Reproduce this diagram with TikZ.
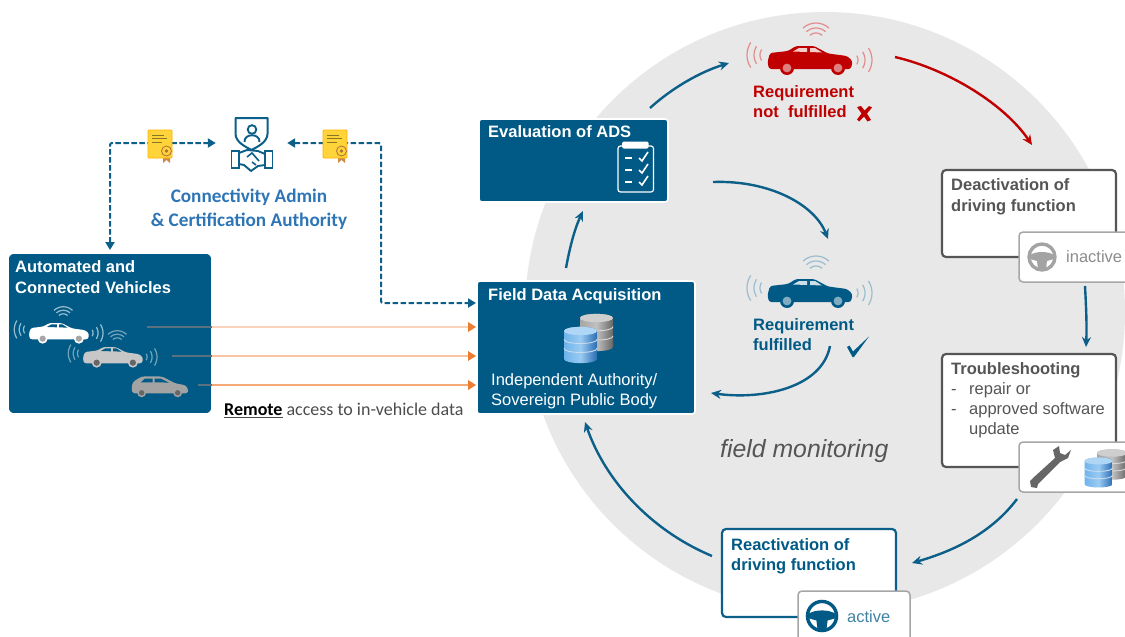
\documentclass[tikz,border=0pt]{standalone}
\usepackage{fontspec}
\setmainfont{Liberation Sans}
\newfontfamily\carl{Carlito}
\usetikzlibrary{arrows.meta,calc}
\definecolor{boxblue}{HTML}{005A85}
\definecolor{arrowblue}{HTML}{0B5F88}
\definecolor{circgray}{HTML}{E8E8E8}
\definecolor{redc}{HTML}{C00000}
\definecolor{txtgray}{HTML}{555555}
\definecolor{certy}{HTML}{FFD43B}
\definecolor{linkblue}{HTML}{2E75B6}
\definecolor{orangetip}{HTML}{ED7D31}
\definecolor{dbgl}{HTML}{A6A6A6}
\definecolor{dbgd}{HTML}{666666}
\definecolor{dbbl}{HTML}{6FB4EC}
\definecolor{dbbd}{HTML}{2A6DB5}
\definecolor{carlg}{HTML}{C7C7C7}
\definecolor{carmg}{HTML}{A3A3A3}
\definecolor{redwin}{HTML}{F3CCCC}
\definecolor{bluewin}{HTML}{CCDEE7}
\definecolor{inboxline}{HTML}{5A7280}
\definecolor{wrenchc}{HTML}{666666}
\newcommand{\dbcyl}[6]{% cx, top y, half width, height, light, dark
  \shade[left color=#5,right color=#6,middle color=#5!70!white]
    ({#1-#3},#2) -- ({#1-#3},{#2+#4}) .. controls ({#1-#3},{#2+#4+.33*#3}) and ({#1+#3},{#2+#4+.33*#3}) .. ({#1+#3},{#2+#4}) -- ({#1+#3},#2)
    .. controls ({#1+#3},{#2-.33*#3}) and ({#1-#3},{#2-.33*#3}) .. ({#1-#3},#2) -- cycle;
  \foreach \f in {.3,.62}{
    \draw[white!75!#6,line width=.9pt] ({#1-#3},{#2+\f*#4}) .. controls ({#1-#3},{#2+\f*#4+.33*#3}) and ({#1+#3},{#2+\f*#4+.33*#3}) .. ({#1+#3},{#2+\f*#4});
  }
  \fill[#5!55!white]
    ({#1-#3},#2) .. controls ({#1-#3},{#2+.33*#3}) and ({#1+#3},{#2+.33*#3}) .. ({#1+#3},#2)
    .. controls ({#1+#3},{#2-.33*#3}) and ({#1-#3},{#2-.33*#3}) .. ({#1-#3},#2) -- cycle;
}
\tikzset{
  x=1pt,y=-1pt,
  bluebox/.style={draw=white,line width=1.6pt,fill=boxblue,rounded corners=3pt,anchor=north west,inner sep=0pt,outer sep=0pt},
  outlinebox/.style={line width=2.2pt,fill=white,rounded corners=4pt,anchor=north west,inner sep=0pt,outer sep=0pt},
  tagbox/.style={draw=black!35,line width=1.5pt,fill=white,rounded corners=4pt,anchor=north west,inner sep=0pt,outer sep=0pt},
  lab/.style={anchor=base west,inner sep=0pt,font=\fontsize{16.5}{18}\selectfont},
  labb/.style={lab,font=\fontsize{16.5}{18}\selectfont\bfseries},
  carl lab/.style={anchor=base,inner sep=0pt,font=\fontsize{18}{20}\selectfont\carl},
  flow/.style={arrowblue,line width=2.4pt,-{Stealth[length=10pt,width=9pt]}},
  dashflow/.style={arrowblue,line width=2pt,dash pattern=on 5.5pt off 2.5pt,rounded corners=2pt,{Stealth[length=8pt,width=9pt,inset=0pt]}-{Stealth[length=8pt,width=9pt,inset=0pt]}},
  pics/car/.style n args={4}{code={
    \foreach \r/\a in {10/33,16/33,23/33}{
      \draw[#3,line width=1.2pt] plot[domain=-\a:\a,samples=9,smooth] ({-40-\r*cos(\x)},{-5+\r*sin(\x)});
    }
    \foreach \r/\a in {8/33,15/33,22/33}{
      \draw[#3,line width=1.2pt] plot[domain=-\a:\a,samples=9,smooth] ({40+\r*cos(\x)},{\r*sin(\x)});
    }
    \foreach \r/\a in {9/43,14/43,19/43}{
      \draw[#3,line width=1.2pt] plot[domain=-\a:\a,samples=9,smooth] ({6+\r*sin(\x)},{-18-\r*cos(\x)});
    }
    \fill[#1,rounded corners=2.5pt] (-42.5,2) -- (-40,-7) -- (-22,-9) -- (-14,-14) -- (4,-14) -- (18,-6.5) -- (37,-4) -- (42.5,1) -- (41,9) -- (-41,9) -- cycle;
    \fill[#2] (-17,-8.5) -- (-11,-12) -- (-3,-12) -- (-3,-8) -- cycle;
    \fill[#2] (0,-12) -- (5,-12) -- (12,-7.5) -- (0,-8) -- cycle;
    \foreach \wx in {-23,28}{
      \fill[#1] (\wx,8) circle[radius=7pt];
      \fill[#4] (\wx,8) circle[radius=4.4pt];
    }
  }},
  pics/hatch/.style n args={3}{code={
    \fill[#1,rounded corners=2.5pt] (-42,5) -- (-40,-6) -- (-27,-14) -- (3,-14) -- (22,-4) -- (38,-1) -- (42,6) -- (40,11) -- (-40,11) -- cycle;
    \fill[#2] (-28,-5.5) -- (-22,-11) -- (-11,-11) -- (-11,-5.5) -- cycle;
    \fill[#2] (-8,-11) -- (1,-11) -- (13,-5) -- (-8,-5.5) -- cycle;
    \foreach \wx in {-27,26}{
      \fill[#1] (\wx,10) circle[radius=6.5pt];
      \fill[#3] (\wx,10) circle[radius=4pt];
    }
  }},
  pics/cert/.style={code={
    \fill[orange!70!black!70] (3,10) -- (3,19) -- (6.5,16) -- (10,19) -- (10,10) -- cycle;
    \fill[certy,draw=orange!60!yellow,line width=.8pt,rounded corners=1pt] (-12,-14) rectangle (12,14);
    \foreach \ly/\lx in {-9/4,-5.5/7,-2/2}{\draw[black!45!certy,line width=.8pt] (-8,\ly) -- (\lx,\ly);}
    \fill[certy] (6.5,7) circle[radius=6pt];
    \draw[orange!60!black!80,line width=.8pt] (6.5,7) circle[radius=5pt];
    \fill[orange!60!black!80] (6.5,7) circle[radius=1.8pt];
  }},
  pics/wheel/.style={code={
    \draw[#1,line width=3.4pt] (0,0) circle[radius=13pt];
    \fill[#1] (-12,-2) .. controls (-6,-6) and (6,-6) .. (12,-2) -- (12,2) -- (5,4) -- (4,12) -- (-4,12) -- (-5,4) -- (-12,2) -- cycle;
  }},
}
\begin{document}
\begin{tikzpicture}
\useasboundingbox (0,0) rectangle (1125,637);
\clip (0,0) rectangle (1125,637);
\fill[white] (0,0) rectangle (1125,637);
\fill[circgray] (825,312) circle[radius=300pt];

% ---- boxes
\node[bluebox,minimum width=204pt,minimum height=161pt,rounded corners=6pt] (veh) at (8,253) {};
\node[bluebox,minimum width=189pt,minimum height=83pt] (evalb) at (479,119) {};
\node[bluebox,minimum width=218pt,minimum height=133pt] (fda) at (477,281) {};
\node[outlinebox,draw=txtgray,minimum width=174pt,minimum height=87pt] (deact) at (942,170) {};
\node[tagbox,minimum width=120pt,minimum height=50pt] (inact) at (1019,232) {};
\node[outlinebox,draw=txtgray,minimum width=174pt,minimum height=113pt] (trouble) at (942,354) {};
\node[tagbox,minimum width=120pt,minimum height=50pt] (toolb) at (1019,442) {};
\node[outlinebox,draw=arrowblue,minimum width=174pt,minimum height=88pt] (react) at (722,529) {};
\node[tagbox,minimum width=112pt,minimum height=60pt] (activeb) at (798,591) {};

% ---- anchors of the connectors
\node[minimum width=71pt,minimum height=54pt,inner sep=0pt] (caicon) at (251.5,143) {};
\coordinate (rcorner) at (381,143);
\coordinate (fport) at (476,303);
\coordinate (o1) at (147,327);
\coordinate (o2) at (172,356);
\coordinate (o3) at (198,385);
\coordinate (f1) at (566,268);
\coordinate (e1) at (583,211);
\coordinate (e2) at (650,108);
\coordinate (rc) at (729,63);
\coordinate (e3) at (713,182);
\coordinate (bc) at (828,239);
\coordinate (bc2) at (830,346);
\coordinate (f2) at (711,393);
\coordinate (rc2) at (895,57);
\coordinate (d1) at (1032,145);
\coordinate (i1) at (1085,286);
\coordinate (t1) at (1086,347);
\coordinate (t2) at (1017,499);
\coordinate (r1) at (912,563);
\coordinate (r2) at (712,556);
\coordinate (f3) at (585,422);

% ---- connectors
\draw[dashflow] ($(veh.north)+(0,-3)$) |- (caicon.west);
\draw[dashflow] (caicon.east) -- (rcorner) |- (fport);
\foreach \o/\c in {o1/F9D3BC,o2/F8C4A4,o3/F5A878}{
  \definecolor{oc}{HTML}{\c}
  \draw[oc,line width=1.6pt] (veh.east |- \o) -- ($(fda.west |- \o)+(-6,0)$);
  \draw[inboxline,line width=1.2pt] (\o) -- (veh.east |- \o);
  \fill[orangetip] ($(fda.west |- \o)+(-9,-5)$) -- ($(fda.west |- \o)+(-1,0)$) -- ($(fda.west |- \o)+(-9,5)$) -- cycle;
}
\draw[flow] (f1) .. controls (570,246) and (575,228) .. (e1);
\draw[flow] (e2) .. controls (672,88) and (700,72) .. (rc);
\draw[flow] (e3) .. controls (770,180) and (815,205) .. (bc);
\draw[flow] (bc2) .. controls (822,388) and (762,400) .. (f2);
\draw[flow,redc] (rc2) .. controls (950,70) and (1005,105) .. (d1);
\draw[flow] (i1) .. controls (1086,305) and (1087,325) .. (t1);
\draw[flow] (t2) .. controls (990,535) and (950,552) .. (r1);
\draw[flow] (r2) .. controls (650,530) and (605,480) .. (f3);

% ---- cars
\pic (carw) [scale=.71] at (59,333) {car={white}{boxblue}{white!60!boxblue}{dbgl}};
\pic (carg) [scale=.71] at (113,357) {car={carlg}{boxblue}{white!45!boxblue}{dbgd}};
\pic (carh) [scale=.68] at (160,386) {hatch={carmg}{boxblue}{dbgd}};
\pic (carr) at (810,60) {car={redc}{redwin}{redc!45!white}{redc!50!white}};
\pic (carb) at (810,293) {car={boxblue}{bluewin}{boxblue!40!white}{boxblue!50!white}};

% ---- certificates
\pic (cert1) at (160,144) {cert};
\pic (cert2) at (335,144) {cert};

% ---- authority icon
\draw[arrowblue,line width=2pt,line join=round,fill=white] (235.5,118) -- (267.5,118) -- (267.5,134) .. controls (267,142) and (259,146) .. (251.5,150) .. controls (244,146) and (236,142) .. (235.5,134) -- cycle;
\draw[arrowblue,line width=1.9pt] (252,129.5) circle[radius=4.3pt];
\draw[arrowblue,line width=1.9pt] (244.5,142) .. controls (244,133) and (260,133) .. (259.5,142);
\draw[arrowblue,line width=1.9pt,line join=round,fill=white] (239,153) -- (247,150) -- (258,151) -- (265,154) -- (265,165) -- (258,166) -- (251,171) -- (244,165) -- (239,164) -- cycle;
\draw[arrowblue,line width=1.6pt] (247,157) -- (252,153) -- (259,161) (252,162) -- (256,165);
\draw[arrowblue,line width=1.9pt,fill=white] (231.5,151) rectangle (239,168);
\draw[arrowblue,line width=1.9pt,fill=white] (265,151) rectangle (272.5,168);

% ---- clipboard
\draw[white,line width=1.2pt,rounded corners=2.5pt] (618,146) rectangle (653.5,192);
\fill[white,rounded corners=1.5pt] (622,141.5) rectangle (648.5,148.5);
\foreach \cy in {158,170,182}{
  \draw[white,line width=1.2pt] (625,\cy) -- (632,\cy);
  \draw[white,line width=1.6pt] (639,\cy) -- (642,{\cy+3}) -- (648,{\cy-6});
}

% ---- databases
\dbcyl{596.5}{318}{16.5}{29}{dbgl}{dbgd}
\dbcyl{580.5}{331}{16.5}{28}{dbbl}{dbbd}
\dbcyl{1112}{453}{15}{23}{dbgl}{dbgd}
\dbcyl{1098.5}{461}{14}{23}{dbbl}{dbbd}

% ---- wrench
\fill[wrenchc] (1030,481) -- (1033,478) -- (1055,458) -- (1053,450) -- (1059,446) -- (1060,453) -- (1065,455) -- (1071,450) -- (1068,458) -- (1060,462) -- (1038,484) -- (1037,488) -- (1031,487) -- cycle;

% ---- wheels
\pic (whi) at (1042,257) {wheel=carmg};
\pic[scale=1.12] (wha) at (822,616) {wheel=boxblue};

% ---- marks
\fill[redc] (857,107) -- (861,106) -- (864.5,110.5) -- (869,106) -- (872,107.5) -- (867,113.5) -- (871,120) -- (867.5,121.5) -- (864,116.5) -- (859,121.5) -- (857,119.5) -- (861.5,113.5) -- cycle;
\fill[boxblue] (847,347) -- (849.5,345.5) -- (853,351.5) -- (869,336.5) -- (854,357) -- (852.5,357) -- cycle;

% ---- texts
\node[labb,white] (tv1) at (15,272.5) {Automated and};
\node[labb,white] (tv2) at (15,293) {Connected Vehicles};
\node[labb,white] (te) at (488,137) {Evaluation of ADS};
\node[labb,white] (tf) at (488,300) {Field Data Acquisition};
\node[lab,white] (ti1) at (491,385) {Independent Authority/};
\node[lab,white] (ti2) at (491,405) {Sovereign Public Body};
\node[carl lab,linkblue,font=\fontsize{19.2}{21}\selectfont\carl\bfseries] (tc1) at (249,202) {Connectivity Admin};
\node[carl lab,linkblue,font=\fontsize{19.2}{21}\selectfont\carl\bfseries] (tc2) at (249,226) {\& Certification Authority};
\node[carl lab,anchor=base west,text=black!70] (tr) at (224,415.5) {\underline{\textcolor{black}{\bfseries Remote}} access to in-vehicle data};
\node[labb,redc] (tn1) at (753,97) {Requirement};
\node[labb,redc] (tn2) at (753,117) {not\ \ fulfilled};
\node[labb,boxblue] (ty1) at (753,330) {Requirement};
\node[labb,boxblue] (ty2) at (753,350) {fulfilled};
\node[lab,txtgray,font=\fontsize{24.8}{28}\selectfont\itshape] (tm) at (720,457) {field monitoring};
\node[labb,txtgray] (td1) at (951,190) {Deactivation of};
\node[labb,txtgray] (td2) at (951,211) {driving function};
\node[lab,black!45] (tin) at (1066,262) {inactive};
\node[labb,txtgray] (tt0) at (951,374) {Troubleshooting};
\node[lab,txtgray] (tb1) at (951,394) {-};
\node[lab,txtgray] (tt1) at (969,394) {repair or};
\node[lab,txtgray] (tb2) at (951,414) {-};
\node[lab,txtgray] (tt2) at (969,414) {approved software};
\node[lab,txtgray] (tt3) at (969,434) {update};
\node[labb,boxblue] (tr1) at (731,550) {Reactivation of};
\node[labb,boxblue] (tr2) at (731,570) {driving function};
\node[lab,boxblue!75!white] (tac) at (847,622) {active};
\end{tikzpicture}
\end{document}
